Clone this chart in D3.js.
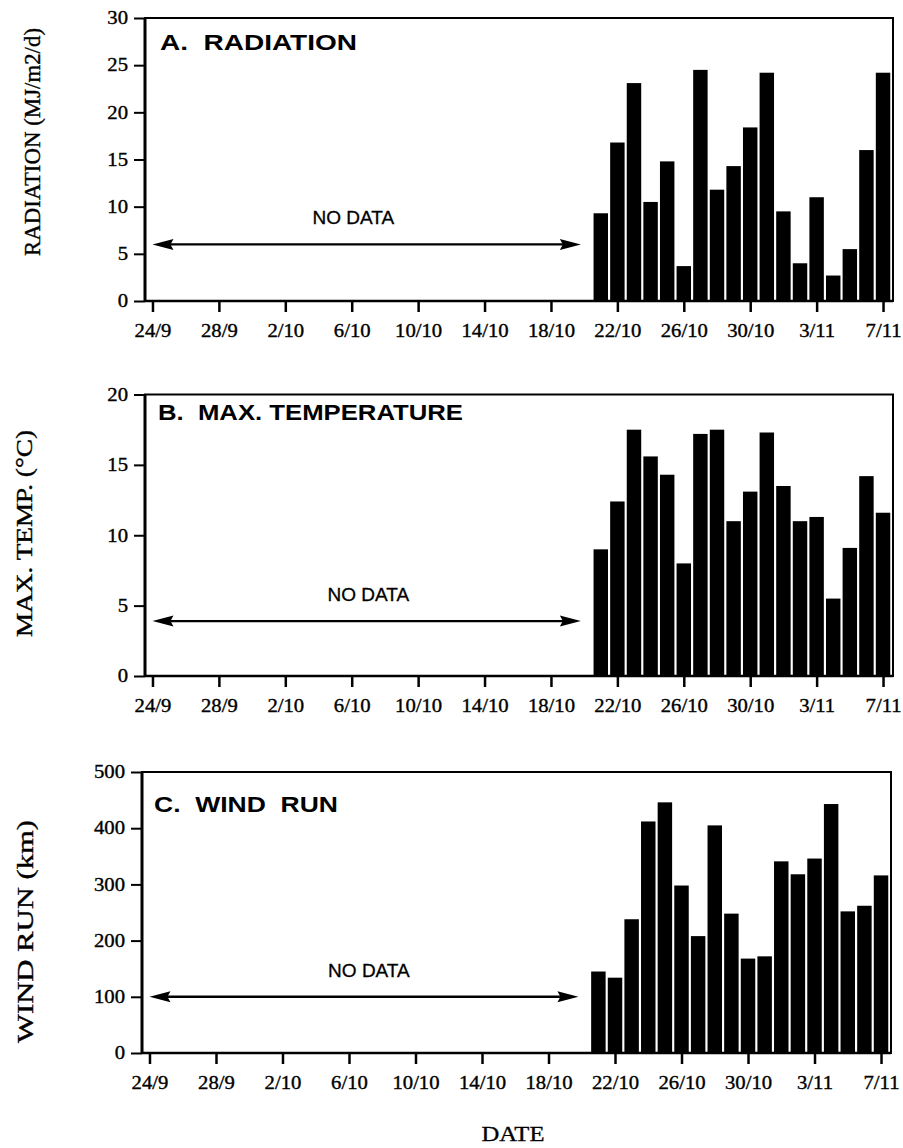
<!DOCTYPE html>
<html><head><meta charset="utf-8">
<script src="https://cdn.jsdelivr.net/npm/d3@7"></script>
<style>body{margin:0;background:#fff} svg{display:block}</style>
</head><body>
<svg id="chart" width="903" height="1148"></svg>
<script>
// ---- data ----
const tickDays   = [0, 4, 8, 12, 16, 20, 24, 28, 32, 36, 40, 44];   // days after 24/9
const tickLabels = ["24/9","28/9","2/10","6/10","10/10","14/10","18/10","22/10","26/10","30/10","3/11","7/11"];
const barDays    = [27,28,29,30,31,32,33,34,35,36,37,38,39,40,41,42,43,44]; // 21/10 .. 7/11
const radiation  = [9.3,16.8,23.1,10.5,14.8,3.7,24.5,11.8,14.3,18.4,24.2,9.5,4.0,11.0,2.7,5.5,16.0,24.2];
const maxTemp    = [9.0,12.4,17.5,15.6,14.3,8.0,17.2,17.5,11.0,13.1,17.3,13.5,11.0,11.3,5.5,9.1,14.2,11.6];
const windRun    = [145,134,238,412,446,298,208,405,248,168,172,341,318,346,443,252,262,316];
const radiationTicks = [0,5,10,15,20,25,30];
const tempTicks      = [0,5,10,15,20];
const windTicks      = [0,100,200,300,400,500];
const panelTitles  = ["A.  RADIATION", "B.  MAX. TEMPERATURE", "C.  WIND  RUN"];
const yTitles      = ["RADIATION (MJ/m2/d)", "MAX. TEMP. (°C)", "WIND RUN (km)"];
const noDataText   = "NO DATA";
const noDataSpan   = [0, 25.8];          // days covered by the "no data" arrow
const noDataLevel  = [6, 3.9, 100];      // height of the arrow in each panel
const noDataLabelDay = [12.1, 13.0, 13.2];
const xTitle = "DATE";

// ---- layout ----
const panels = [
  {values: radiation, ticks: radiationTicks, ymax: 30,  top: 18,    bottom: 301, left: 145, right: 893,
   titleY: 50,  titleX: 160, titleW: 197, yLabX: 32, yLabY: 142, yLabLen: 228},
  {values: maxTemp,   ticks: tempTicks,      ymax: 20,  top: 394.5, bottom: 676, left: 145, right: 893,
   titleY: 420, titleX: 158, titleW: 305, yLabX: 24, yLabY: 533.5, yLabLen: 207},
  {values: windRun,   ticks: windTicks,      ymax: 500, top: 772,   bottom: 1053, left: 142, right: 891,
   titleY: 812, titleX: 154, titleW: 184, yLabX: 25, yLabY: 931.5, yLabLen: 223}
];

const svg = d3.select("#chart");
const serif = "'Liberation Serif','Times New Roman',serif";
const sans  = "'Liberation Sans',Arial,Helvetica,sans-serif";
const stretch = 1.15;

panels.forEach((p, i) => {
  const x = d3.scaleLinear().domain([-0.45, 44.6]).range([p.left, p.right]);
  const y = d3.scaleLinear().domain([0, p.ymax]).range([p.bottom, p.top]);
  const g = svg.append("g");
  const dayW = x(1) - x(0);
  const bw = dayW * 0.87;

  // bars
  g.selectAll("rect.bar").data(p.values).join("rect")
    .attr("class", "bar")
    .attr("x", (d, j) => x(barDays[j]) - bw / 2)
    .attr("width", bw)
    .attr("y", d => y(d))
    .attr("height", d => y(0) - y(d))
    .attr("fill", "#000");

  // frame
  g.append("rect")
    .attr("x", p.left).attr("y", p.top)
    .attr("width", p.right - p.left).attr("height", p.bottom - p.top)
    .attr("fill", "none").attr("stroke", "#000").attr("stroke-width", 2);
  g.append("line").attr("x1", p.left).attr("x2", p.left).attr("y1", p.top).attr("y2", p.bottom)
    .attr("stroke", "#000").attr("stroke-width", 3);
  g.append("line").attr("x1", p.left).attr("x2", p.right).attr("y1", p.bottom).attr("y2", p.bottom)
    .attr("stroke", "#000").attr("stroke-width", 2.5);

  // y axis
  const ya = g.append("g").attr("transform", `translate(${p.left},0)`)
    .call(d3.axisLeft(y).tickValues(p.ticks).tickSize(11).tickPadding(6).tickFormat(d3.format("d")));
  ya.select(".domain").remove();
  ya.selectAll(".tick line").attr("stroke-width", 2);
  ya.selectAll(".tick text")
    .attr("font-family", serif).attr("font-size", 18).attr("fill", "#000")
    .attr("stroke", "#000").attr("stroke-width", 0.35)
    .attr("x", -17 / stretch)
    .attr("transform", `scale(${stretch},1)`);

  // x axis
  const xa = g.append("g").attr("transform", `translate(0,${p.bottom})`)
    .call(d3.axisBottom(x).tickValues(tickDays).tickSize(11).tickPadding(12)
      .tickFormat((d, j) => tickLabels[j]));
  xa.select(".domain").remove();
  xa.selectAll(".tick line").attr("stroke-width", 2.5);
  xa.selectAll(".tick text")
    .attr("font-family", serif).attr("font-size", 18).attr("fill", "#000")
    .attr("stroke", "#000").attr("stroke-width", 0.35)
    .attr("transform", `scale(${stretch},1)`);

  // no data arrow
  const ay = y(noDataLevel[i]);
  const x0 = x(noDataSpan[0]), x1 = x(noDataSpan[1]);
  g.append("line").attr("x1", x0 + 10).attr("x2", x1 - 10).attr("y1", ay).attr("y2", ay)
    .attr("stroke", "#000").attr("stroke-width", 2.4);
  g.append("path").attr("d", `M${x0},${ay}L${x0 + 21},${ay - 5.5}L${x0 + 18},${ay}L${x0 + 21},${ay + 5.5}Z`).attr("fill", "#000");
  g.append("path").attr("d", `M${x1},${ay}L${x1 - 21},${ay - 5.5}L${x1 - 18},${ay}L${x1 - 21},${ay + 5.5}Z`).attr("fill", "#000");
  g.append("text").attr("x", x(noDataLabelDay[i])).attr("y", ay - 20)
    .attr("text-anchor", "middle").attr("font-family", sans).attr("font-size", 19)
    .attr("stroke", "#000").attr("stroke-width", 0.3)
    .attr("fill", "#000").text(noDataText);

  // panel title
  g.append("text").attr("x", p.titleX).attr("y", p.titleY)
    .attr("font-family", sans).attr("font-weight", "bold").attr("font-size", 22)
    .style("white-space", "pre")
    .attr("textLength", p.titleW).attr("lengthAdjust", "spacingAndGlyphs")
    .attr("fill", "#000").text(panelTitles[i]);

  // y title
  g.append("text")
    .attr("transform", `translate(${p.yLabX},${p.yLabY}) rotate(-90) scale(1,1.2)`)
    .attr("text-anchor", "middle").attr("dominant-baseline", "central")
    .attr("font-family", serif).attr("font-size", 19)
    .attr("stroke", "#000").attr("stroke-width", 0.3)
    .attr("textLength", p.yLabLen).attr("lengthAdjust", "spacingAndGlyphs")
    .attr("fill", "#000").text(yTitles[i]);
});

svg.append("text").attr("x", 513).attr("y", 1141)
  .attr("text-anchor", "middle").attr("font-family", serif).attr("font-size", 20)
  .attr("stroke", "#000").attr("stroke-width", 0.3)
  .attr("textLength", 63).attr("lengthAdjust", "spacingAndGlyphs")
  .attr("fill", "#000").text(xTitle);
</script>
</body></html>
